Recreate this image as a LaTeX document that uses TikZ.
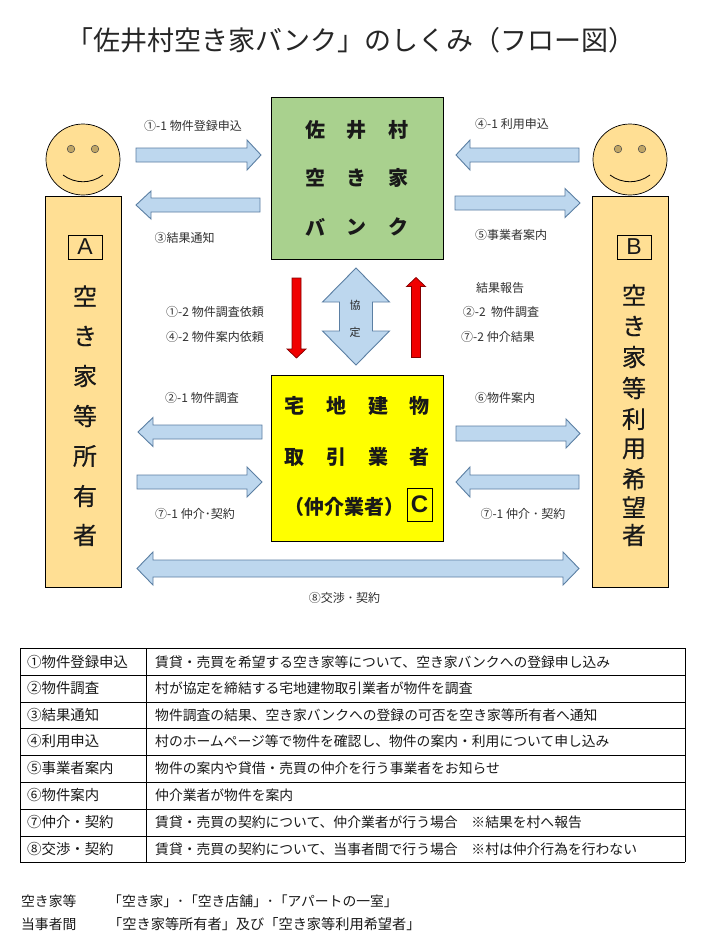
\documentclass[tikz,border=0pt]{standalone}
\usepackage{fontspec}
\setmainfont{Noto Sans CJK JP}
\newfontfamily\latinfont{Liberation Sans}
\newfontfamily\heavyfont[FakeBold=0.5]{Noto Sans CJK JP}
\usetikzlibrary{calc}
\definecolor{barrowfill}{HTML}{BDD7EE}
\definecolor{barrowline}{HTML}{5B7FA3}
\definecolor{bankgreen}{HTML}{A9D18E}
\definecolor{skin}{HTML}{FFDF94}
\definecolor{eyecol}{HTML}{BFA566}
\definecolor{labelgray}{HTML}{303030}
\definecolor{agentyellow}{HTML}{FFFF00}
\definecolor{arrowred}{HTML}{F00000}
\newcommand\fsz[1]{\fontsize{#1}{#1}\selectfont}
\tikzset{
  x=1pt,y=-1pt,
  barrow/.style={draw=barrowline,fill=barrowfill,line width=0.9pt},
  redarrow/.style={draw=arrowred!55!black,fill=arrowred,line width=0.7pt},
  boxbase/.style={draw=black,line width=0.8pt,minimum width=#1,inner sep=0pt,outer sep=0pt},
  charbold/.style={inner sep=0pt,font=\fsz{20}\bfseries,text=black!90},
  charbig/.style={inner sep=0pt,font=\heavyfont\fsz{24},text=black!90},
  lab/.style={inner sep=0pt,font=\fsz{12},text=labelgray},
  tabtxt/.style={inner sep=0pt,anchor=west,font=\fsz{13.8},text=black!90},
  tabhead/.style={inner sep=0pt,anchor=west,font=\fsz{14.4},text=black!90},
  letterbox/.style={draw=black,line width=0.8pt,inner sep=0pt,font=\latinfont\fsz{23},text=black!90},
  person/.style={draw=black,line width=0.7pt,fill=skin},
  rule/.style={draw=black,line width=0.8pt},
}
% one-headed block arrow: from, to, half shaft, half head, head length, style
\newcommand\barrowone[6]{%
  \coordinate (hb) at ($(#2)!#5pt!(#1)$);
  \draw[#6] ($(#1)!#3pt!90:(#2)$) -- ($(hb)!#3pt!90:(#2)$) -- ($(hb)!#4pt!90:(#2)$) -- (#2)
    -- ($(hb)!#4pt!-90:(#2)$) -- ($(hb)!#3pt!-90:(#2)$) -- ($(#1)!#3pt!-90:(#2)$) -- cycle;}
% two-headed block arrow
\newcommand\barrowtwo[6]{%
  \coordinate (hb) at ($(#2)!#5pt!(#1)$);
  \coordinate (ha) at ($(#1)!#5pt!(#2)$);
  \draw[#6] (#1) -- ($(ha)!#4pt!90:(#2)$) -- ($(ha)!#3pt!90:(#2)$) -- ($(hb)!#3pt!90:(#2)$) -- ($(hb)!#4pt!90:(#2)$) -- (#2)
    -- ($(hb)!#4pt!-90:(#2)$) -- ($(hb)!#3pt!-90:(#2)$) -- ($(ha)!#3pt!-90:(#2)$) -- ($(ha)!#4pt!-90:(#2)$) -- cycle;}
\begin{document}
\begin{tikzpicture}
\useasboundingbox (0,0) rectangle (703,938);
\fill[white] (0,0) rectangle (703,938);

\node[inner sep=0pt,font=\fsz{27},text=black!85] (title) at (351,40) {「佐井村空き家バンク」のしくみ（フロー図）};

% main boxes
\node[boxbase=172pt,minimum height=162pt,fill=bankgreen] (bank) at (357,178) {};
\node[boxbase=172pt,minimum height=166pt,fill=agentyellow] (agent) at (357,458) {};
\node[boxbase=76pt,minimum height=391pt,fill=skin] (ownerbody) at (83,391.5) {};
\node[boxbase=76pt,minimum height=391pt,fill=skin] (userbody) at (630,391.5) {};

% persons
\foreach \n/\cx in {owner/83,user/630}{
  \draw[person] (\cx,159.5) ellipse (37 and 35.5);
  \fill[eyecol] (\cx-12,149) circle (3.8);
  \draw[black!70,line width=0.5pt] (\cx-12,149) circle (3.8);
  \fill[eyecol] (\cx+12,149) circle (3.8);
  \draw[black!70,line width=0.5pt] (\cx+12,149) circle (3.8);
  \draw[black,line width=0.8pt] (\cx-20,175) .. controls (\cx-8,184) and (\cx+8,184) .. (\cx+20,175);
}

% letter boxes
\node[letterbox,minimum width=34pt,minimum height=24pt] (la) at (85,247) {A};
\node[letterbox,minimum width=34pt,minimum height=24pt] (lb) at (634,247) {B};
\node[letterbox,minimum width=25pt,minimum height=33pt,font=\latinfont\bfseries\fsz{24}] (lc) at (419.5,504.5) {C};

% vertical text
\foreach \c/\yy [count=\i] in {空/296,き/336,家/376,等/416,所/456,有/496,者/535}
  \node[charbig] (a\i) at (85,\yy) {\c};
\foreach \c/\yy [count=\i] in {空/295,き/326,家/357,等/388,利/419,用/449,希/479,望/507,者/535}
  \node[charbig] (b\i) at (634,\yy) {\c};

% bank text
\foreach \c/\xx/\yy [count=\i] in {佐/315/130,井/356/130,村/398/130,空/315/178,き/356/178,家/398/178,バ/315/227,ン/356/227,ク/398/227}
  \node[charbold] (g\i) at (\xx,\yy) {\c};
% agent text
\foreach \c/\xx/\yy [count=\i] in {宅/294/406,地/336/406,建/378/406,物/419/406,取/294/457,引/336/457,業/378/457,者/419/457}
  \node[charbold] (y\i) at (\xx,\yy) {\c};
\node[charbold] (y9) at (344,507) {（仲介業者）};

% block arrows
\coordinate (a1s) at (136,155); \coordinate (a1e) at (261,155);
\barrowone{a1s}{a1e}{7}{15}{14}{barrow}
\coordinate (a2s) at (260,205); \coordinate (a2e) at (136,205);
\barrowone{a2s}{a2e}{7}{14}{15}{barrow}
\coordinate (a3s) at (579,155); \coordinate (a3e) at (456,155);
\barrowone{a3s}{a3e}{7}{15}{14}{barrow}
\coordinate (a4s) at (455,203); \coordinate (a4e) at (580,203);
\barrowone{a4s}{a4e}{7}{14.5}{15}{barrow}
\coordinate (a5s) at (262,432); \coordinate (a5e) at (138,432);
\barrowone{a5s}{a5e}{7}{14.5}{15}{barrow}
\coordinate (a6s) at (137,482); \coordinate (a6e) at (262,482);
\barrowone{a6s}{a6e}{7}{15}{15}{barrow}
\coordinate (a7s) at (456,433.5); \coordinate (a7e) at (580,433.5);
\barrowone{a7s}{a7e}{7.5}{14.5}{14}{barrow}
\coordinate (a8s) at (579,482); \coordinate (a8e) at (456,482);
\barrowone{a8s}{a8e}{7}{15}{14}{barrow}
\coordinate (a9s) at (137,568.5); \coordinate (a9e) at (579,568.5);
\barrowtwo{a9s}{a9e}{8.5}{16.5}{16}{barrow}
\coordinate (a10s) at (356,268); \coordinate (a10e) at (356,365);
\barrowtwo{a10s}{a10e}{16.5}{33.5}{34}{barrow}

% red arrows
\coordinate (r1s) at (296.5,278); \coordinate (r1e) at (296.5,358);
\barrowone{r1s}{r1e}{4.5}{9.5}{9}{redarrow}
\coordinate (r2s) at (416,357.5); \coordinate (r2e) at (416,277.5);
\barrowone{r2s}{r2e}{4.5}{9.5}{9}{redarrow}

\node[inner sep=0pt,font=\fsz{11},text=black!85] (k1) at (355,305) {協};
\node[inner sep=0pt,font=\fsz{11},text=black!85] (k2) at (355,332) {定};

% labels
\node[lab] (l1) at (193,126) {①-1 物件登録申込};
\node[lab] (l2) at (184.5,238) {③結果通知};
\node[lab] (l3) at (215,312) {①-2 物件調査依頼};
\node[lab] (l4) at (215,337) {④-2 物件案内依頼};
\node[lab] (l5) at (512,124) {④-1 利用申込};
\node[lab] (l6) at (511,235) {⑤事業者案内};
\node[lab] (l7) at (500,288) {結果報告};
\node[lab] (l8) at (501,312) {②-2\ \ 物件調査};
\node[lab] (l9) at (498,337) {⑦-2 仲介結果};
\node[lab] (l10) at (202,398) {②-1 物件調査};
\node[lab] (l11) at (505,398) {⑥物件案内};
\node[lab] (l12) at (195,514) {⑦-1 仲介･契約};
\node[lab] (l13) at (523,514) {⑦-1 仲介 ･ 契約};
\node[lab] (l14) at (344.5,598) {⑧交渉 ･ 契約};

% table
\foreach \yy in {648,675.5,702,728,755,782,809,836,862}
  \draw[rule] (20,\yy) -- (685,\yy);
\draw[rule] (20.4,648) -- (20.4,862);
\draw[rule] (146,648) -- (146,862);
\draw[rule] (685,648) -- (685,862);
\foreach \yy/\left/\right [count=\i] in {
 662/①物件登録申込/賃貸・売買を希望する空き家等について、空き家バンクへの登録申し込み,
 688.5/②物件調査/村が協定を締結する宅地建物取引業者が物件を調査,
 715/③結果通知/物件調査の結果、空き家バンクへの登録の可否を空き家等所有者へ通知,
 741.5/④利用申込/村のホームページ等で物件を確認し、物件の案内・利用について申し込み,
 768.5/⑤事業者案内/物件の案内や貸借・売買の仲介を行う事業者をお知らせ,
 795.5/⑥物件案内/仲介業者が物件を案内,
 822/⑦仲介・契約/賃貸・売買の契約について、仲介業者が行う場合　※結果を村へ報告,
 849/⑧交渉・契約/賃貸・売買の契約について、当事者間で行う場合　※村は仲介行為を行わない}{
  \node[tabhead] (tl\i) at (27,\yy) {\left};
  \node[tabtxt] (tr\i) at (155,\yy) {\right};
}

% footer
\node[tabtxt] (f1) at (21,901) {空き家等};
\node[tabtxt] (f2) at (108,901) {「空き家」･「空き店舗」･「アパートの一室」};
\node[tabtxt] (f3) at (21,924) {当事者間};
\node[tabtxt,font=\fsz{14.2}] (f4) at (108,924) {「空き家等所有者」及び「空き家等利用希望者」};
\end{tikzpicture}
\end{document}
